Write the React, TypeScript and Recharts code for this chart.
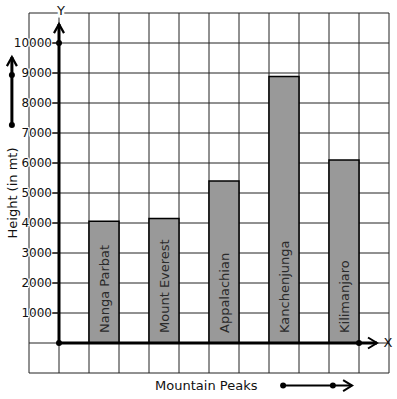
import React from 'react';
import {
  ComposedChart,
  Bar,
  XAxis,
  YAxis,
  CartesianGrid,
  ReferenceLine,
  ReferenceDot,
  LabelList,
  Label,
} from 'recharts';

const categories = ['Nanga Parbat', 'Mount Everest', 'Appalachian', 'Kanchenjunga', 'Kilimanjaro'];
const heights = [4060, 4150, 5400, 8880, 6100];
const positions = [1.5, 3.5, 5.5, 7.5, 9.5];
const yTicks = [-1000, 0, 1000, 2000, 3000, 4000, 5000, 6000, 7000, 8000, 9000, 10000, 11000];
const yLabelTicks = [1000, 2000, 3000, 4000, 5000, 6000, 7000, 8000, 9000, 10000];
const xTicks = [-1, 0, 1, 2, 3, 4, 5, 6, 7, 8, 9, 10, 11];

const data = categories.map((name, i) => ({ name, x: positions[i], height: heights[i] }));

const FONT = '"DejaVu Sans", sans-serif';
const COL = 30;

const YTick = (props: any) => {
  const { x, y, payload } = props;
  if (!yLabelTicks.includes(payload.value)) return <g />;
  const ax = x + COL;
  return (
    <g>
      <line x1={ax - 7} y1={y} x2={ax} y2={y} stroke="#111" strokeWidth={1.2} />
      <text
        x={ax - 7}
        y={y}
        textAnchor="end"
        dominantBaseline="central"
        fontSize={12}
        fontFamily={FONT}
        fill="#111"
        stroke="#fff"
        strokeWidth={2}
        paintOrder="stroke"
      >
        {payload.value}
      </text>
    </g>
  );
};

const BarText = (props: any) => {
  const { x, y, width, height, value } = props;
  const cx = x + width / 2;
  const by = y + height - 10;
  return (
    <text
      x={cx}
      y={by}
      transform={`rotate(-90 ${cx} ${by})`}
      textAnchor="start"
      dominantBaseline="central"
      fontSize={13}
      fontFamily={FONT}
      fill="#2a2a2a"
    >
      {value}
    </text>
  );
};

const upArrow = (letter: string | null) => (p: any) => {
  const { x1, y1, x2, y2 } = p;
  const top = Math.min(y1, y2);
  const bot = Math.max(y1, y2);
  return (
    <g>
      <line x1={x1} y1={bot} x2={x2} y2={top} stroke="#000" strokeWidth={3} />
      <polyline
        points={`${x2 - 5},${top + 9} ${x2},${top} ${x2 + 5},${top + 9}`}
        fill="none"
        stroke="#000"
        strokeWidth={2.2}
      />
      {letter ? (
        <text
          x={x2 + 2}
          y={top - 14}
          textAnchor="middle"
          dominantBaseline="central"
          fontSize={13}
          fontFamily={FONT}
          fill="#111"
          stroke="#fff"
          strokeWidth={5}
          paintOrder="stroke"
        >
          {letter}
        </text>
      ) : null}
    </g>
  );
};

const rightArrow = (letter: string | null, w: number, title: string | null) => (p: any) => {
  const { x1, y1, x2, y2 } = p;
  const l = Math.min(x1, x2);
  const r = Math.max(x1, x2);
  return (
    <g>
      <line x1={l} y1={y1} x2={r} y2={y2} stroke="#000" strokeWidth={w} />
      <polyline
        points={`${r - 9},${y2 - 5.5} ${r},${y2} ${r - 9},${y2 + 5.5}`}
        fill="none"
        stroke="#000"
        strokeWidth={2}
      />
      {letter ? (
        <text
          x={r + 11}
          y={y2 - 1}
          textAnchor="middle"
          dominantBaseline="central"
          fontSize={13}
          fontFamily={FONT}
          fill="#111"
        >
          {letter}
        </text>
      ) : null}
      {title ? (
        <text
          x={l - 128}
          y={y2}
          textAnchor="start"
          dominantBaseline="central"
          fontSize={13}
          fontFamily={FONT}
          fill="#111"
        >
          {title}
        </text>
      ) : null}
    </g>
  );
};

const YTitle = (props: any) => {
  const vb = props.viewBox || {};
  const cx = vb.x + 12;
  const cy = vb.y + vb.height / 2;
  return (
    <text
      x={cx}
      y={cy}
      transform={`rotate(-90 ${cx} ${cy})`}
      textAnchor="middle"
      dominantBaseline="central"
      fontSize={13}
      fontFamily={FONT}
      fill="#111"
    >
      Height (in mt)
    </text>
  );
};

const verticalGen = (props: any) => {
  const scale = props?.xAxis?.scale;
  if (scale && typeof scale === 'function') return xTicks.map((t) => scale(t));
  if (scale && typeof scale.map === 'function') return xTicks.map((t) => scale.map(t));
  return [];
};

export default function App() {
  return (
    <div style={{ position: 'absolute', left: 0, top: 0, width: 397, height: 399, background: '#fff' }}>
      <ComposedChart
        width={397}
        height={399}
        data={data}
        margin={{ top: 13, right: 8, bottom: 0, left: 0 }}
        style={{ fontFamily: FONT }}
      >
        <CartesianGrid stroke="#222" strokeWidth={1} fill="#fff" verticalCoordinatesGenerator={verticalGen} />
        <XAxis
          type="number"
          dataKey="x"
          domain={[-1, 11]}
          ticks={xTicks}
          interval={0}
          allowDataOverflow
          height={26}
          tick={false}
          tickLine={false}
          axisLine={false}
        />
        <YAxis
          type="number"
          domain={[-1000, 11000]}
          ticks={yTicks}
          interval={0}
          allowDataOverflow
          width={29}
          tickSize={0}
          tickMargin={0}
          tickLine={false}
          axisLine={false}
          tick={YTick}
        >
          <Label content={YTitle} />
        </YAxis>
        <Bar
          dataKey="height"
          barSize={30}
          fill="#999999"
          stroke="#000"
          strokeWidth={1.5}
          isAnimationActive={false}
        >
          <LabelList dataKey="name" content={BarText} />
        </Bar>
        <ReferenceLine
          segment={[{ x: 0, y: 0 }, { x: 0, y: 10630 }]}
          ifOverflow="visible"
          shape={upArrow('Y')}
        />
        <ReferenceLine
          segment={[{ x: 0, y: 0 }, { x: 10.6, y: 0 }]}
          ifOverflow="visible"
          shape={rightArrow('X', 3, null)}
        />
        <ReferenceLine
          segment={[{ x: -1.57, y: 7270 }, { x: -1.57, y: 9530 }]}
          ifOverflow="visible"
          shape={upArrow(null)}
        />
        <ReferenceLine
          segment={[{ x: 7.47, y: -1420 }, { x: 9.77, y: -1420 }]}
          ifOverflow="visible"
          shape={rightArrow(null, 2, 'Mountain Peaks')}
        />
        <ReferenceDot x={0} y={0} r={3} fill="#000" stroke="none" ifOverflow="visible" />
        <ReferenceDot x={0} y={10000} r={3} fill="#000" stroke="none" ifOverflow="visible" />
        <ReferenceDot x={10} y={0} r={3} fill="#000" stroke="none" ifOverflow="visible" />
        <ReferenceDot x={-1.57} y={8930} r={3} fill="#000" stroke="none" ifOverflow="visible" />
        <ReferenceDot x={-1.57} y={7270} r={3} fill="#000" stroke="none" ifOverflow="visible" />
        <ReferenceDot x={7.47} y={-1420} r={3} fill="#000" stroke="none" ifOverflow="visible" />
        <ReferenceDot x={9.13} y={-1420} r={3} fill="#000" stroke="none" ifOverflow="visible" />
      </ComposedChart>
    </div>
  );
}
